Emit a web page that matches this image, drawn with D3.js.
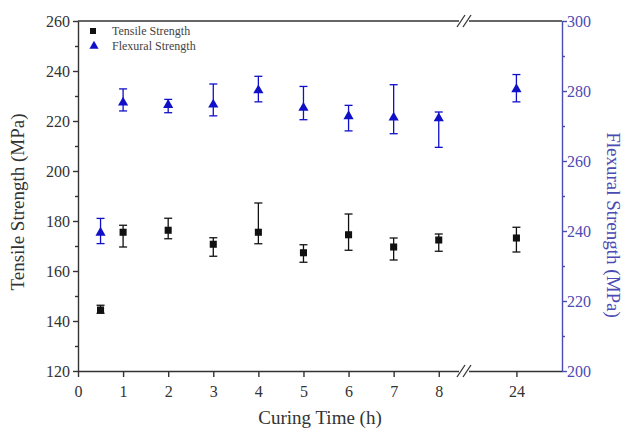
<!DOCTYPE html>
<html>
<head>
<meta charset="utf-8">
<script src="https://cdn.jsdelivr.net/npm/d3@7"></script>
<style>
  body { margin: 0; background: #fff; }
</style>
</head>
<body>
<svg id="chart"></svg>
<script>
const hours = [0.5, 1, 2, 3, 4, 5, 6, 7, 8, 24];
const tensile   = [144.4, 175.5, 176.3, 170.7, 175.5, 167.3, 174.5, 169.6, 172.4, 173.2];
const tensileHi = [146.3, 178.3, 181.1, 173.3, 187.2, 170.5, 182.8, 173.2, 174.8, 177.5];
const tensileLo = [143.1, 169.6, 172.9, 165.9, 170.9, 163.5, 168.3, 164.4, 167.9, 167.6];
const flexural  = [239.5, 276.7, 276.0, 276.1, 280.2, 275.2, 272.8, 272.4, 272.2, 280.5];
const flexHi    = [243.6, 280.6, 277.6, 282.0, 284.2, 281.3, 275.9, 281.8, 274.0, 284.7];
const flexLo    = [236.4, 274.3, 273.8, 272.9, 276.9, 271.8, 268.6, 267.8, 263.9, 276.9];
const xTicks = [0, 1, 2, 3, 4, 5, 6, 7, 8, 24];

const width = 624, height = 430;
const plotL = 78, plotR = 562, plotT = 21, plotB = 371;
const breakX = 464;
const serif = "'Liberation Serif', 'Times New Roman', 'DejaVu Serif', serif";
const blue = "#1010c8", axisBlue = "#4b4bb4";

const svg = d3.select("#chart").attr("width", width).attr("height", height);

// broken x axis: 0..8.56 then 22.85..25
const x = d3.scaleLinear().domain([0, 8.56, 22.85, 25]).range([plotL, breakX, breakX, plotR]);
const yL = d3.scaleLinear().domain([120, 260]).range([plotB, plotT]);
const yR = d3.scaleLinear().domain([200, 300]).range([plotB, plotT]);

/* AXES */
const xAxis = svg.append("g").attr("transform", `translate(0,${plotB})`)
  .call(d3.axisBottom(x).tickValues(xTicks).tickFormat(d3.format("d")).tickSize(6).tickSizeOuter(0));
const yAxisL = svg.append("g").attr("transform", `translate(${plotL},0)`)
  .call(d3.axisLeft(yL).tickValues(d3.range(120, 261, 20)).tickSize(5).tickSizeOuter(0));
const yAxisR = svg.append("g").attr("transform", `translate(${plotR},0)`)
  .call(d3.axisRight(yR).tickValues(d3.range(200, 301, 20)).tickSize(5).tickSizeOuter(0));

// minor ticks
const minorL = svg.append("g").attr("transform", `translate(${plotL},0)`)
  .call(d3.axisLeft(yL).tickValues(d3.range(130, 260, 20)).tickSize(3).tickFormat("").tickSizeOuter(0));
minorL.select(".domain").remove();
const minorR = svg.append("g").attr("transform", `translate(${plotR},0)`)
  .call(d3.axisRight(yR).tickValues(d3.range(210, 300, 20)).tickSize(3).tickFormat("").tickSizeOuter(0));
minorR.select(".domain").remove();

[xAxis, yAxisL, minorL].forEach(a => {
  a.selectAll("path, line").attr("stroke", "#333").attr("stroke-width", 1.4);
  a.selectAll("text").attr("fill", "#333");
});
xAxis.selectAll("text").attr("dy", "1.05em");
[yAxisR, minorR].forEach(a => a.selectAll("path, line").attr("stroke", axisBlue).attr("stroke-width", 1.4));
yAxisR.selectAll("text").attr("fill", axisBlue).attr("x", 5);
[xAxis, yAxisL, yAxisR].forEach(a => a.attr("font-family", serif).attr("font-size", 16));

// top frame line
svg.append("line").attr("x1", plotL).attr("x2", plotR).attr("y1", plotT).attr("y2", plotT)
  .attr("stroke", "#333").attr("stroke-width", 1.4);

// break marks
[plotT, plotB].forEach(yy => {
  svg.append("rect").attr("x", breakX - 5).attr("y", yy - 3).attr("width", 10).attr("height", 6).attr("fill", "#fff");
  [-3, 3].forEach(o => {
    svg.append("line")
      .attr("x1", breakX + o - 4).attr("y1", yy + 6)
      .attr("x2", breakX + o + 4).attr("y2", yy - 6)
      .attr("stroke", "#333").attr("stroke-width", 1.3);
  });
});

/* ERROR BARS + MARKERS */
function drawSeries(vals, hi, lo, y, color, symbol, size) {
  const g = svg.append("g");
  const cap = 4;
  const bars = g.selectAll(".err").data(hours).enter().append("g");
  bars.append("line")
    .attr("x1", d => x(d)).attr("x2", d => x(d))
    .attr("y1", (d, i) => y(hi[i])).attr("y2", (d, i) => y(lo[i]));
  bars.append("line")
    .attr("x1", d => x(d) - cap).attr("x2", d => x(d) + cap)
    .attr("y1", (d, i) => y(hi[i])).attr("y2", (d, i) => y(hi[i]));
  bars.append("line")
    .attr("x1", d => x(d) - cap).attr("x2", d => x(d) + cap)
    .attr("y1", (d, i) => y(lo[i])).attr("y2", (d, i) => y(lo[i]));
  bars.selectAll("line").attr("stroke", color).attr("stroke-width", 1.3);
  g.selectAll(".pt").data(hours).enter().append("path")
    .attr("d", d3.symbol().type(symbol).size(size))
    .attr("transform", (d, i) => `translate(${x(d)},${y(vals[i])})`)
    .attr("fill", color);
}
drawSeries(tensile, tensileHi, tensileLo, yL, "#111", d3.symbolSquare, 50);
drawSeries(flexural, flexHi, flexLo, yR, blue, d3.symbolTriangle, 45);

/* LEGEND */
const legend = svg.append("g").attr("transform", "translate(93,31)")
  .attr("font-family", serif).attr("font-size", 12);
legend.append("path").attr("d", d3.symbol().type(d3.symbolSquare).size(36)).attr("fill", "#111");
legend.append("path").attr("d", d3.symbol().type(d3.symbolTriangle).size(36))
  .attr("transform", "translate(1,15)").attr("fill", blue);
legend.append("text").attr("x", 19).attr("y", 4).text("Tensile Strength").attr("fill", "#444");
legend.append("text").attr("x", 19).attr("y", 19).text("Flexural Strength").attr("fill", "#444");

/* TITLES */
const titles = svg.append("g").attr("font-family", serif).attr("font-size", 19).attr("text-anchor", "middle");
titles.append("text").attr("transform", "translate(24,202) rotate(-90)")
  .attr("fill", "#333").text("Tensile Strength (MPa)");
titles.append("text").attr("transform", "translate(607,225) rotate(90)")
  .attr("fill", axisBlue).text("Flexural Strength (MPa)");
titles.append("text").attr("x", 320).attr("y", 424)
  .attr("fill", "#333").text("Curing Time (h)");
</script>
</body>
</html>
